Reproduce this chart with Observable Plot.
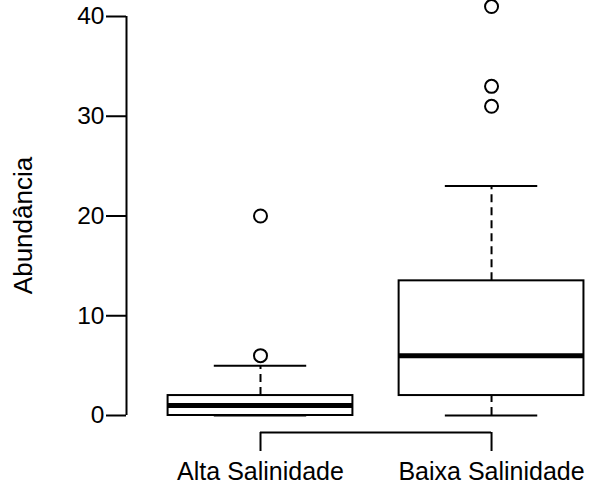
<!DOCTYPE html>
<html><head><meta charset="utf-8">
<script src="https://cdn.jsdelivr.net/npm/d3@7"></script>
<script src="https://cdn.jsdelivr.net/npm/@observablehq/plot@0.6"></script>
<style>body{margin:0;background:#fff;} #chart svg{display:block;}</style>
</head><body><div id="chart"></div>
<script>
// Data
const categories = ["Alta Salinidade", "Baixa Salinidade"];
const lowerWhisker = [0, 0];
const q1 = [0, 2];
const median = [1, 6];
const q3 = [2, 13.5];
const upperWhisker = [5, 23];
const outliers = [[6, 20], [31, 33, 41]];
const yTicks = [0, 10, 20, 30, 40];
const yLabel = "Abundância";

const boxes = categories.map((c, i) => ({
  cat: c, pos: i + 1, lo: lowerWhisker[i], q1: q1[i], med: median[i], q3: q3[i], hi: upperWhisker[i]
}));
const points = outliers.flatMap((vs, i) => vs.map(v => ({pos: i + 1, value: v})));

const boxHalf = 0.4, capHalf = 0.2;
const xDomain = [0.42, 2.424];
const font = "'Liberation Sans', Arial, Helvetica, sans-serif";

const chart = Plot.plot({
  width: 589,
  height: 486,
  marginLeft: 126,
  marginRight: 0,
  marginTop: 18,
  marginBottom: 54,
  style: {fontFamily: font, color: "black", background: "white", overflow: "visible"},
  x: {domain: xDomain},
  y: {domain: [yTicks[0], yTicks[yTicks.length - 1]], range: [415, 16]},
  marks: [
    // whiskers
    Plot.ruleX(boxes, {x: "pos", y1: "q3", y2: "hi", stroke: "black", strokeWidth: 2, strokeDasharray: "8,5"}),
    Plot.ruleX(boxes, {x: "pos", y1: "lo", y2: "q1", stroke: "black", strokeWidth: 2, strokeDasharray: "8,5"}),
    Plot.ruleY(boxes, {y: "hi", x1: d => d.pos - capHalf, x2: d => d.pos + capHalf, stroke: "black", strokeWidth: 2}),
    Plot.ruleY(boxes, {y: "lo", x1: d => d.pos - capHalf, x2: d => d.pos + capHalf, stroke: "black", strokeWidth: 2}),
    // boxes
    Plot.rect(boxes, {x1: d => d.pos - boxHalf, x2: d => d.pos + boxHalf, y1: "q1", y2: "q3", fill: "white", stroke: "black", strokeWidth: 2}),
    // medians
    Plot.ruleY(boxes, {y: "med", x1: d => d.pos - boxHalf, x2: d => d.pos + boxHalf, stroke: "black", strokeWidth: 5}),
    // outliers
    Plot.dot(points, {x: "pos", y: "value", r: 6.5, stroke: "black", strokeWidth: 2, fill: "none"}),
    // y axis
    Plot.ruleX([xDomain[0]], {y1: yTicks[0], y2: yTicks[yTicks.length - 1], stroke: "black", strokeWidth: 2}),
    Plot.axisY({ticks: yTicks, tickSize: 20, tickPadding: 2, fontSize: 24.5, strokeWidth: 2, label: null}),
    // x axis (bracket)
    Plot.ruleY([yTicks[0]], {x1: boxes[0].pos, x2: boxes[boxes.length - 1].pos, dy: 17, stroke: "black", strokeWidth: 2}),
    Plot.axisX({ticks: boxes.map(d => d.pos), tickFormat: p => categories[p - 1], tickSize: 19, tickPadding: 11, fontSize: 25, strokeWidth: 2, label: null}),
    // y label
    Plot.text([yLabel], {frameAnchor: "left", textAnchor: "middle", rotate: -90, dx: -103, fontSize: 26, fill: "black"})
  ]
});
document.getElementById("chart").appendChild(chart);
</script>
</body></html>
